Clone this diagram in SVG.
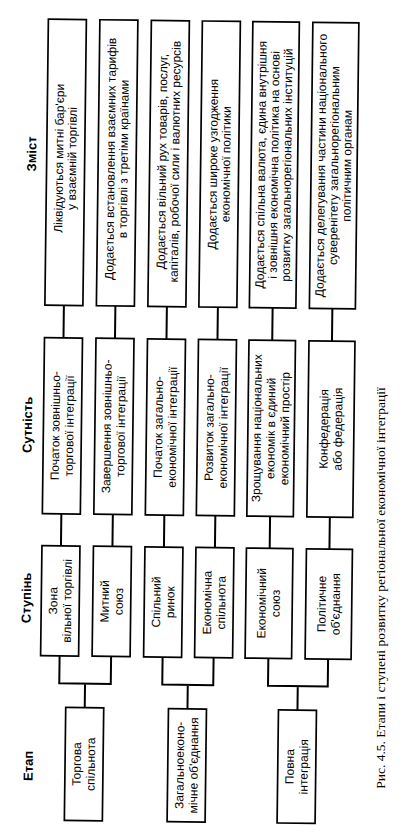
<svg xmlns="http://www.w3.org/2000/svg" width="404" height="839" viewBox="0 0 404 839">
<style>
.bx{fill:#fff;stroke:#000;stroke-width:1.7}
.ln{fill:none;stroke:#000;stroke-width:2}
.t{font-family:"Liberation Sans",Arial,sans-serif;font-size:12px;fill:#000;text-anchor:middle}
.h{font-family:"Liberation Sans",Arial,sans-serif;font-size:13px;font-weight:bold;fill:#000;text-anchor:middle}
.cap{font-family:"Liberation Serif","Times New Roman",serif;font-size:13.5px;fill:#000;text-anchor:middle}
</style>
<rect width="404" height="839" fill="#fff"/>
<g transform="rotate(0.7 200 420)">
<g id="headers">
<text class="h" transform="translate(33 156) rotate(-90)">Зміст</text>
<text class="h" transform="translate(32 427) rotate(-90)">Сутність</text>
<text class="h" transform="translate(33 600) rotate(-90)">Ступінь</text>
<text class="h" transform="translate(37 768) rotate(-90)">Етап</text>
</g>
<g id="connectors">
<path class="ln" d="M62.5 307V339.5M114 307V339.5M165.5 307V339.5M216.5 307V339.5M271.25 307V339.5M331 307V339.5"/>
<path class="ln" d="M62.5 515.5V547.5M114 515.5V547.5M165.5 515.5V547.5M216.5 515.5V547.5M271.25 515.5V547.5M331 515.5V547.5"/>
<path class="ln" d="M62.5 657.5V685H114V657.5M88.25 685V709"/>
<path class="ln" d="M165.5 657.5V685H216.5V657.5M191 685V709"/>
<path class="ln" d="M271.25 657.5V685H331V657.5M301 685V709"/>
</g>
<g id="z1"><rect class="bx" x="43.5" y="21" width="38" height="286"/>
<text class="t" transform="translate(60 160) rotate(-90)">Ліквідуються митні бар'єри</text>
<text class="t" transform="translate(73 160) rotate(-90)">у взаємній торгівлі</text></g>
<g id="z2"><rect class="bx" x="95" y="21" width="38" height="286"/>
<text class="t" transform="translate(111.5 160) rotate(-90)">Додається встановлення взаємних тарифів</text>
<text class="t" transform="translate(124.5 160) rotate(-90)">в торгівлі з третіми країнами</text></g>
<g id="z3"><rect class="bx" x="146.5" y="21" width="38" height="286"/>
<text class="t" transform="translate(163 162) rotate(-90)">Додається вільний рух товарів, послуг,</text>
<text class="t" transform="translate(176 162) rotate(-90)">капіталів, робочої сили і валютних ресурсів</text></g>
<g id="z4"><rect class="bx" x="197.5" y="21" width="38" height="286"/>
<text class="t" transform="translate(214 164) rotate(-90)">Додається широке узгодження</text>
<text class="t" transform="translate(227 164) rotate(-90)">економічної політики</text></g>
<g id="z5"><rect class="bx" x="248" y="21" width="46.5" height="286"/>
<text class="t" transform="translate(262 164) rotate(-90)">Додається спільна валюта, єдина внутрішня</text>
<text class="t" transform="translate(275 164) rotate(-90)">і зовнішня економічна політика на основі</text>
<text class="t" transform="translate(288 164) rotate(-90)">розвитку загальнорегіональних інституцій</text></g>
<g id="z6"><rect class="bx" x="308" y="21" width="46" height="286"/>
<text class="t" transform="translate(322 164) rotate(-90)">Додається делегування частини національного</text>
<text class="t" transform="translate(335 164) rotate(-90)">суверенітету загальнорегіональним</text>
<text class="t" transform="translate(348 164) rotate(-90)">політичним органам</text></g>
<g id="s1"><rect class="bx" x="43.5" y="339.5" width="38" height="176"/>
<text class="t" transform="translate(59.5 427.5) rotate(-90)">Початок зовнішньо-</text>
<text class="t" transform="translate(73.5 427.5) rotate(-90)">торгової інтеграції</text></g>
<g id="s2"><rect class="bx" x="95" y="339.5" width="38" height="176"/>
<text class="t" transform="translate(111 427.5) rotate(-90)">Завершення зовнішньо-</text>
<text class="t" transform="translate(125 427.5) rotate(-90)">торгової інтеграції</text></g>
<g id="s3"><rect class="bx" x="146.5" y="339.5" width="38" height="176"/>
<text class="t" transform="translate(162.5 427.5) rotate(-90)">Початок  загально-</text>
<text class="t" transform="translate(176.5 427.5) rotate(-90)">економічної інтеграції</text></g>
<g id="s4"><rect class="bx" x="197.5" y="339.5" width="38" height="176"/>
<text class="t" transform="translate(213.5 427.5) rotate(-90)">Розвиток загально-</text>
<text class="t" transform="translate(227.5 427.5) rotate(-90)">економічної інтеграції</text></g>
<g id="s5"><rect class="bx" x="248" y="339.5" width="46.5" height="176"/>
<text class="t" transform="translate(261 427.5) rotate(-90)">Зрощування національних</text>
<text class="t" transform="translate(275 427.5) rotate(-90)">економік в єдиний</text>
<text class="t" transform="translate(289 427.5) rotate(-90)">економічний простір</text></g>
<g id="s6"><rect class="bx" x="308" y="339.5" width="46" height="176"/>
<text class="t" transform="translate(328 427.5) rotate(-90)">Конфедерація</text>
<text class="t" transform="translate(342 427.5) rotate(-90)">або федерація</text></g>
<g id="st1"><rect class="bx" x="43.5" y="547.5" width="38" height="110"/>
<text class="t" transform="translate(59.5 602.5) rotate(-90)">Зона</text>
<text class="t" transform="translate(73.5 602.5) rotate(-90)">вільної торгівлі</text></g>
<g id="st2"><rect class="bx" x="95" y="547.5" width="38" height="110"/>
<text class="t" transform="translate(111 602.5) rotate(-90)">Митний</text>
<text class="t" transform="translate(125 602.5) rotate(-90)">союз</text></g>
<g id="st3"><rect class="bx" x="146.5" y="547.5" width="38" height="110"/>
<text class="t" transform="translate(162.5 602.5) rotate(-90)">Спільний</text>
<text class="t" transform="translate(176.5 602.5) rotate(-90)">ринок</text></g>
<g id="st4"><rect class="bx" x="197.5" y="547.5" width="38" height="110"/>
<text class="t" transform="translate(213.5 602.5) rotate(-90)">Економічна</text>
<text class="t" transform="translate(227.5 602.5) rotate(-90)">спільнота</text></g>
<g id="st5"><rect class="bx" x="248" y="547.5" width="46.5" height="110"/>
<text class="t" transform="translate(268 602.5) rotate(-90)">Економічний</text>
<text class="t" transform="translate(282 602.5) rotate(-90)">союз</text></g>
<g id="st6"><rect class="bx" x="308" y="547.5" width="46" height="110"/>
<text class="t" transform="translate(328 602.5) rotate(-90)">Політичне</text>
<text class="t" transform="translate(342 602.5) rotate(-90)">об'єднання</text></g>
<g id="e1"><rect class="bx" x="69.25" y="709" width="38" height="113"/>
<text class="t" transform="translate(85 765.5) rotate(-90)">Торгова</text>
<text class="t" transform="translate(99 765.5) rotate(-90)">спільнота</text></g>
<g id="e2"><rect class="bx" x="172" y="709" width="38" height="113"/>
<text class="t" transform="translate(188 765.5) rotate(-90)">Загальноеконо-</text>
<text class="t" transform="translate(202 765.5) rotate(-90)">мічне об'єднання</text></g>
<g id="e3"><rect class="bx" x="282" y="709" width="38" height="113"/>
<text class="t" transform="translate(298 765.5) rotate(-90)">Повна</text>
<text class="t" transform="translate(312 765.5) rotate(-90)">інтеграція</text></g>
</g>
<text class="cap" transform="translate(385 588) rotate(-90)">Рис. 4.5. Етапи і ступені розвитку регіональної економічної інтеграції</text>
</svg>
